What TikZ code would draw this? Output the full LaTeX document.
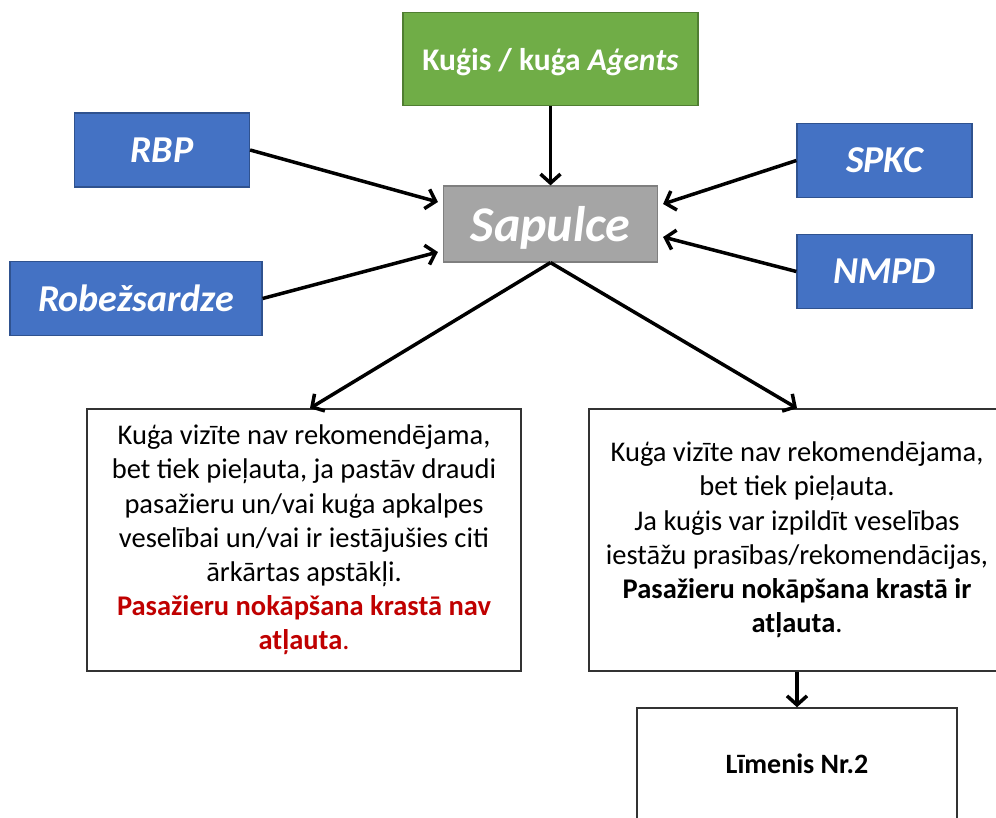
\documentclass[tikz,border=0pt]{standalone}
\usepackage{fontspec}
\setmainfont{Carlito}
\usetikzlibrary{arrows.meta}
\definecolor{bluefill}{HTML}{4472C4}
\definecolor{blueline}{HTML}{2F528F}
\definecolor{greenfill}{HTML}{70AD47}
\definecolor{greenline}{HTML}{507E32}
\definecolor{grayfill}{HTML}{A5A5A5}
\definecolor{grayline}{HTML}{7F7F7F}
\definecolor{redtext}{HTML}{C00000}
\begin{document}
\begin{tikzpicture}[x=1pt,y=-1pt,
  box/.style={draw, rectangle, inner sep=0pt, anchor=center},
  agency/.style={box, fill=bluefill, draw=blueline, line width=1.2pt, text=white,
    font=\fontsize{38}{44}\selectfont\bfseries\itshape, minimum width=175pt, minimum height=74pt},
  conn/.style={line width=3.5pt, -{Straight Barb[length=9pt,width=20pt]}},
  textbox/.style={box, draw=black!80, line width=1.5pt, fill=white, align=center,
    font=\fontsize{28.5}{34.2}\selectfont}
]
\clip (0,0) rectangle (996,817);
\fill[white] (0,0) rectangle (996,817);
\node[box, fill=greenfill, draw=greenline, line width=1.2pt, minimum width=295pt, minimum height=93pt,
  text depth=0pt, text=white, font=\fontsize{31.5}{36}\selectfont\bfseries] (ship) at (550.5,59) {Kuģis / kuģa \textit{Aģents}};
\node[box, fill=grayfill, draw=grayline, line width=1.2pt, minimum width=214pt, minimum height=76pt,
  text depth=0pt, text=white, font=\fontsize{50}{56}\selectfont\bfseries\itshape] (sap) at (550.5,224) {Sapulce};
\node[agency] (rbp) at (162,150) {RBP};
\node[agency, minimum width=252pt] (rob) at (136,298.5) {Robežsardze};
\node[agency] (spkc) at (884.5,160.5) {SPKC};
\node[agency] (nmpd) at (884.5,271.5) {NMPD};
\node[textbox, minimum width=434pt, minimum height=262pt] (left) at (304,540)
  {Kuģa vizīte nav rekomendējama,\\
   bet tiek pieļauta, ja pastāv draudi\\
   pasažieru un/vai kuģa apkalpes\\
   veselībai un/vai ir iestājušies citi\\
   ārkārtas apstākļi.\\
   \textcolor{redtext}{\bfseries Pasažieru nokāpšana krastā nav}\\
   \textcolor{redtext}{\bfseries atļauta}\textcolor{redtext}{.}};
\node[textbox, minimum width=416pt, minimum height=262pt] (right) at (797,540)
  {Kuģa vizīte nav rekomendējama,\\
   bet tiek pieļauta.\\
   Ja kuģis var izpildīt veselības\\
   iestāžu prasības/rekomendācijas,\\
   \textbf{Pasažieru nokāpšana krastā ir}\\
   \textbf{atļauta}.};
\node[textbox, minimum width=320pt, minimum height=112pt, font=\fontsize{28}{32}\selectfont\bfseries]
  (lim) at (797,764) {Līmenis Nr.2};
\draw[conn] (ship) -- (sap);
\draw[conn] (rbp.east) -- ([xshift=-5pt,yshift=22pt]sap.west);
\draw[conn] (rob.east) -- ([xshift=-5pt,yshift=-28pt]sap.west);
\draw[conn] (spkc.west) -- ([xshift=5pt,yshift=20pt]sap.east);
\draw[conn] (nmpd.west) -- ([xshift=5pt,yshift=-13pt]sap.east);
\draw[conn] (sap.south) -- ([xshift=6pt]left.north);
\draw[conn] (sap.south) -- (right.north);
\draw[conn] (right.south) -- (lim.north);
\end{tikzpicture}
\end{document}
